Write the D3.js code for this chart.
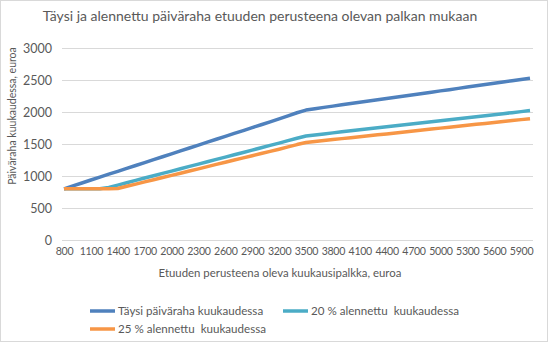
<!DOCTYPE html>
<html>
<head>
<meta charset="utf-8">
<script src="https://cdn.jsdelivr.net/npm/d3@7"></script>
<style>
  html, body { margin: 0; padding: 0; background: #fff; }
  svg { display: block; }
  text { font-family: Lato, "Open Sans", sans-serif; fill: #595959; }
</style>
</head>
<body>
<svg id="chart" width="549" height="343"></svg>
<script>
// Monthly salary (euro), step 100
const salaries = d3.range(800, 6001, 100);

// Full daily allowance per month
const fullAllowance = [
  800, 846, 891, 937, 982, 1028, 1073, 1119, 1164, 1210,
  1255, 1301, 1346, 1392, 1437, 1483, 1528, 1574, 1619, 1665,
  1710, 1756, 1801, 1847, 1892, 1940, 1988, 2030, 2052, 2072,
  2092, 2112, 2132, 2151, 2171, 2191, 2211, 2231, 2250, 2270,
  2290, 2310, 2330, 2349, 2369, 2389, 2409, 2429, 2448, 2468,
  2488, 2508, 2527
];

// Allowance reduced by 20 %
const reduced20 = [
  800, 800, 800, 800, 800, 822, 858, 895, 931, 968,
  1004, 1041, 1077, 1114, 1150, 1186, 1222, 1259, 1295, 1332,
  1368, 1405, 1441, 1478, 1514, 1552, 1590, 1624, 1642, 1658,
  1674, 1690, 1706, 1721, 1737, 1753, 1769, 1785, 1800, 1816,
  1832, 1848, 1864, 1879, 1895, 1911, 1927, 1943, 1958, 1974,
  1990, 2006, 2022
];

// Allowance reduced by 25 %
const reduced25 = [
  800, 800, 800, 800, 800, 800, 805, 839, 873, 908,
  941, 976, 1010, 1044, 1078, 1112, 1146, 1181, 1214, 1249,
  1283, 1317, 1351, 1385, 1419, 1455, 1491, 1523, 1539, 1554,
  1569, 1584, 1599, 1613, 1628, 1643, 1658, 1673, 1688, 1703,
  1718, 1733, 1748, 1762, 1777, 1792, 1807, 1822, 1836, 1851,
  1866, 1881, 1895
];

const xTickLabels = d3.range(800, 5901, 300);
const yTickLabels = [0, 500, 1000, 1500, 2000, 2500, 3000];

const seriesNames = ["Täysi päiväraha kuukaudessa", "20 % alennettu  kuukaudessa", "25 % alennettu  kuukaudessa"];
const seriesColors = ["#4F81BD", "#4BACC6", "#F79646"];

const title = "Täysi ja alennettu päiväraha  etuuden perusteena olevan palkan mukaan";
const xTitle = "Etuuden  perusteena oleva kuukausipalkka, euroa";
const yTitle = "Päiväraha kuukaudessa, euroa";

const svg = d3.select("#chart");
const W = 549, H = 343;

// outer chart border
svg.append("rect")
  .attr("x", 0.5).attr("y", 0.5)
  .attr("width", W - 2).attr("height", H - 2)
  .attr("fill", "#fff").attr("stroke", "#d9d9d9");

const plot = { left: 62, right: 533, top: 48, bottom: 240 };

const x = d3.scaleLinear().domain([800, 6000]).range([64, 530]);
const y = d3.scaleLinear().domain([0, 3000]).range([plot.bottom, plot.top]);

// horizontal gridlines
svg.append("g")
  .selectAll("line")
  .data(yTickLabels)
  .join("line")
  .attr("x1", plot.left).attr("x2", plot.right)
  .attr("y1", d => Math.round(y(d)) + 0.5)
  .attr("y2", d => Math.round(y(d)) + 0.5)
  .attr("stroke", "#d9d9d9").attr("stroke-width", 1);

// y axis labels
const yAxis = d3.axisLeft(y).tickValues(yTickLabels).tickSize(0).tickPadding(0).tickFormat(d3.format("d"));
svg.append("g")
  .attr("transform", `translate(52,0)`)
  .call(yAxis)
  .call(g => g.select(".domain").remove())
  .call(g => g.selectAll("text")
    .attr("font-size", 12.5)
    .attr("fill", "#595959")
    .attr("font-family", "Lato, 'Open Sans', sans-serif"));

// x axis labels
const xAxis = d3.axisBottom(x).tickValues(xTickLabels).tickSize(0).tickPadding(0).tickFormat(d3.format("d"));
svg.append("g")
  .attr("transform", `translate(0,247)`)
  .call(xAxis)
  .call(g => g.select(".domain").remove())
  .call(g => g.selectAll("text")
    .attr("font-size", 10.6)
    .attr("letter-spacing", -0.3)
    .attr("fill", "#595959")
    .attr("font-family", "Lato, 'Open Sans', sans-serif"));

// series lines
const series = [fullAllowance, reduced20, reduced25];
const line = d3.line()
  .x((d, i) => x(salaries[i]))
  .y(d => y(d));

svg.append("g")
  .selectAll("path")
  .data(series)
  .join("path")
  .attr("d", line)
  .attr("fill", "none")
  .attr("stroke", (d, i) => seriesColors[i])
  .attr("stroke-width", 3.5)
  .attr("stroke-linejoin", "round")
  .attr("stroke-linecap", "butt");

// title
svg.append("text")
  .attr("x", 260).attr("y", 21)
  .attr("text-anchor", "middle")
  .attr("font-size", 14)
  .attr("fill", "#595959")
  .text(title);

// axis titles
svg.append("text")
  .attr("x", 280).attr("y", 277)
  .attr("text-anchor", "middle")
  .attr("font-size", 11.4)
  .text(xTitle);

svg.append("text")
  .attr("transform", "translate(16,116) rotate(-90)")
  .attr("text-anchor", "middle")
  .attr("font-size", 10.5)
  .text(yTitle);

// legend
const legendPos = [
  { x: 90, y: 311 },
  { x: 283, y: 311 },
  { x: 90, y: 329 }
];
const legend = svg.append("g")
  .selectAll("g")
  .data(seriesNames)
  .join("g")
  .attr("transform", (d, i) => `translate(${legendPos[i].x},${legendPos[i].y})`);

legend.append("line")
  .attr("x1", 0).attr("x2", 25)
  .attr("y1", 0).attr("y2", 0)
  .attr("stroke", (d, i) => seriesColors[i])
  .attr("stroke-width", 3.5);

legend.append("text")
  .attr("x", 28).attr("y", 4.2)
  .attr("font-size", 11.6)
  .attr("xml:space", "preserve")
  .style("white-space", "pre")
  .text(d => d);
</script>
</body>
</html>
